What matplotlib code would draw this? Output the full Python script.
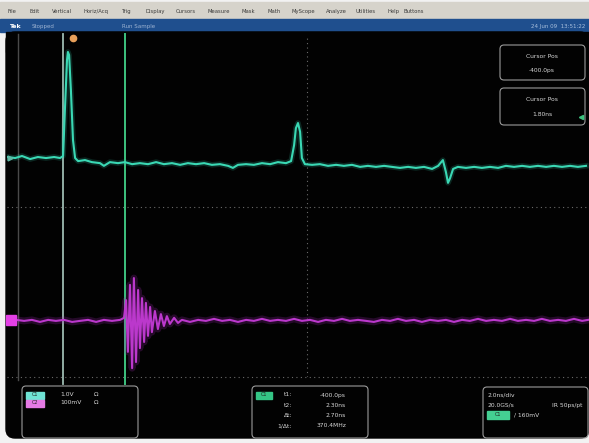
import matplotlib.pyplot as plt
from matplotlib.patches import Rectangle, FancyBboxPatch

# ---- trazas (tiempo en ns, amplitud en divisiones) ----
ch1_t = [-9.97, -9.73, -9.50, -9.23, -8.97, -8.70, -8.43, -8.23, -8.13, -8.07,
         -8.00, -7.97, -7.93, -7.87, -7.80, -7.73, -7.63, -7.40, -7.17, -6.90,
         -6.77, -6.57, -6.30, -6.07, -5.83, -5.57, -5.30, -5.03, -4.77, -4.50,
         -4.23, -3.97, -3.70, -3.43, -3.17, -2.90, -2.63, -2.47, -2.30, -2.03,
         -1.77, -1.50, -1.23, -0.97, -0.70, -0.53, -0.43, -0.37, -0.30, -0.23,
         -0.17, -0.07, 0.17, 0.43, 0.70, 0.97, 1.23, 1.50, 1.77, 2.03,
         2.30, 2.57, 2.83, 3.10, 3.37, 3.63, 3.90, 4.17, 4.37, 4.53,
         4.63, 4.70, 4.77, 4.87, 5.03, 5.30, 5.57, 5.83, 6.10, 6.37,
         6.63, 6.90, 7.17, 7.43, 7.70, 7.97, 8.23, 8.50, 8.77, 9.03, 9.30]
ch1_v = [1.47, 1.44, 1.50, 1.41, 1.47, 1.44, 1.47, 1.44, 1.50, 2.85,
         4.32, 4.56, 4.47, 3.44, 1.97, 1.44, 1.35, 1.38, 1.32, 1.29,
         1.21, 1.32, 1.29, 1.32, 1.26, 1.29, 1.26, 1.32, 1.26, 1.29,
         1.24, 1.29, 1.26, 1.29, 1.24, 1.26, 1.21, 1.15, 1.24, 1.26,
         1.24, 1.29, 1.26, 1.32, 1.29, 1.35, 1.82, 2.32, 2.47, 2.21,
         1.44, 1.26, 1.24, 1.26, 1.21, 1.24, 1.21, 1.24, 1.18, 1.21,
         1.18, 1.21, 1.18, 1.15, 1.18, 1.15, 1.18, 1.12, 1.21, 1.38,
         1.03, 0.71, 0.85, 1.12, 1.18, 1.15, 1.18, 1.15, 1.18, 1.15,
         1.21, 1.18, 1.21, 1.18, 1.21, 1.18, 1.21, 1.18, 1.21, 1.18, 1.21]

ch2_t = [-9.70, -9.43, -9.17, -8.90, -8.63, -8.37, -8.10, -7.83, -7.57, -7.30,
         -7.03, -6.77, -6.50, -6.23, -6.10, -6.03, -5.97, -5.90, -5.83, -5.77,
         -5.70, -5.63, -5.57, -5.50, -5.43, -5.37, -5.30, -5.23, -5.17, -5.07,
         -4.97, -4.87, -4.77, -4.67, -4.57, -4.43, -4.30, -4.17, -3.90, -3.63,
         -3.37, -3.10, -2.83, -2.57, -2.30, -2.03, -1.77, -1.50, -1.23, -0.97,
         -0.70, -0.43, -0.17, 0.10, 0.37, 0.63, 0.90, 1.17, 1.43, 1.70,
         1.97, 2.23, 2.50, 2.77, 3.03, 3.30, 3.57, 3.83, 4.10, 4.37,
         4.63, 4.90, 5.17, 5.43, 5.70, 5.97, 6.23, 6.50, 6.77, 7.03,
         7.30, 7.57, 7.83, 8.10, 8.37, 8.63, 8.90, 9.17, 9.37]
ch2_v = [-3.32, -3.35, -3.32, -3.38, -3.32, -3.35, -3.32, -3.38, -3.35, -3.32,
         -3.38, -3.32, -3.35, -3.32, -3.26, -2.74, -4.26, -2.29, -4.74, -2.09,
         -4.56, -2.44, -4.15, -2.68, -3.97, -2.82, -3.79, -2.94, -3.68, -3.06,
         -3.59, -3.15, -3.50, -3.21, -3.44, -3.26, -3.41, -3.32, -3.38, -3.32,
         -3.35, -3.29, -3.35, -3.32, -3.38, -3.32, -3.35, -3.29, -3.35, -3.32,
         -3.35, -3.29, -3.35, -3.32, -3.38, -3.32, -3.35, -3.29, -3.35, -3.32,
         -3.35, -3.38, -3.32, -3.35, -3.29, -3.35, -3.32, -3.38, -3.32, -3.35,
         -3.32, -3.38, -3.32, -3.35, -3.29, -3.35, -3.32, -3.35, -3.29, -3.35,
         -3.32, -3.35, -3.29, -3.35, -3.32, -3.35, -3.29, -3.35, -3.32]

cursor_t = [-8.13, -6.07]
ref_t = -9.63
trig_t = -7.80
ch1_pos = 1.44
ch2_pos = -3.32

menu_items = ["File", "Edit", "Vertical", "Horiz/Acq", "Trig", "Display", "Cursors",
              "Measure", "Mask", "Math", "MyScope", "Analyze", "Utilities", "Help", "Buttons"]
menu_x = [8, 30, 52, 84, 122, 146, 176, 208, 242, 268, 292, 326, 356, 388, 404]

ch_labels = ["C1", "C2"]
ch_scale = ["1.0V", "100mV"]
meas_labels = ["t1:", "t2:", "Δt:", "1/Δt:"]
meas_values = ["-400.0ps", "2.30ns", "2.70ns", "370.4MHz"]

W, H = 589, 443
fig = plt.figure(figsize=(W / 100, H / 100), dpi=100, facecolor="#f2f2f2")

# fondo: barra de menu, barra azul y pantalla negra
bg = fig.add_axes([0, 0, 1, 1])
bg.set_xlim(0, W)
bg.set_ylim(H, 0)
bg.axis("off")
bg.add_patch(Rectangle((0, 2), W, 17, color="#d6d3cb"))
bg.add_patch(Rectangle((0, 19), W, 13, color="#1f4f8e"))
bg.add_patch(FancyBboxPatch((6, 32), W - 6, 406, boxstyle="round,pad=0,rounding_size=9",
                            color="#020202"))
bg.add_patch(Rectangle((6, 32), W - 6, 20, color="#020202"))
for name, x in zip(menu_items, menu_x):
    bg.text(x, 11, name, fontsize=3.8, color="#3a3a3a", va="center")
bg.text(9, 26, "Tek", fontsize=4.5, color="white", fontweight="bold", va="center")
bg.text(32, 26, "Stopped", fontsize=4, color="#9db3d2", va="center")
bg.text(122, 26, "Run Sample", fontsize=4, color="#9db3d2", va="center")
bg.text(585, 26, "24 Jun 09  13:51:22", fontsize=4, color="#a9c0dd", va="center", ha="right")

# area de graticula (+-5 div en ambos ejes, 2 ns/div)
ax = fig.add_axes([7 / W, 1 - 377 / H, 600 / W, 340 / H])
ax.set_xlim(-10, 10)
ax.set_ylim(-5, 5)
ax.patch.set_alpha(0)
ax.axis("off")

grid_kw = dict(color="#6a6a6a", lw=0.8, ls=(0, (1, 3)))
ax.axhline(0, **grid_kw)
ax.axvline(0, **grid_kw)
ax.axhline(-5, clip_on=False, **grid_kw)

ax.plot([ref_t, ref_t], [5.1, -5.1], color="#4a4a4a", lw=1.0, clip_on=False)
ax.plot([cursor_t[0]] * 2, [5.1, -5.2], color="#9cbab0", lw=1.3, clip_on=False)
ax.plot([cursor_t[1]] * 2, [5.1, -5.2], color="#3dc27f", lw=1.4, clip_on=False)

ax.plot(ch1_t, ch1_v, color="#36d2b0", lw=4.0, alpha=0.18)
ax.plot(ch1_t, ch1_v, color="#3ad8b4", lw=1.5)
ax.plot(ch2_t, ch2_v, color="#a528b8", lw=5.0, alpha=0.22)
ax.plot(ch2_t, ch2_v, color="#bb38cc", lw=1.5)

ax.plot(trig_t, 4.97, marker="o", ms=4.5, color="#e8a05a", clip_on=False)
ax.plot(-9.88, ch2_pos, marker="s", ms=7, color="#e440e6", clip_on=False)
ax.plot(-9.9, ch1_pos, marker=">", ms=3.5, color="#5fb8a4", clip_on=False)

# cuadros de lectura
top = fig.add_axes([0, 0, 1, 1])
top.set_xlim(0, W)
top.set_ylim(H, 0)
top.patch.set_alpha(0)
top.axis("off")

box_kw = dict(boxstyle="round,pad=0,rounding_size=4", fill=False, ec="#9a9a9a", lw=0.8)
txt_kw = dict(fontsize=4.3, color="#d8d8d8", va="center")

top.add_patch(FancyBboxPatch((500, 45), 85, 35, **box_kw))
top.text(542, 56, "Cursor Pos", ha="center", **txt_kw)
top.text(542, 70, "-400.0ps", ha="center", **txt_kw)
top.add_patch(FancyBboxPatch((500, 88), 85, 37, **box_kw))
top.text(542, 99, "Cursor Pos", ha="center", **txt_kw)
top.text(542, 114, "1.80ns", ha="center", **txt_kw)
top.plot(581, 117, marker="<", ms=3, color="#3dc27f")

top.add_patch(FancyBboxPatch((22, 386), 116, 52, **box_kw))
for i, (lab, sc, col) in enumerate(zip(ch_labels, ch_scale, ["#6fe3d4", "#e47ae4"])):
    y = 395 + 8 * i
    top.add_patch(Rectangle((26, y - 3.5), 18, 7, color=col))
    top.text(35, y, lab, fontsize=3.5, color="#202020", ha="center", va="center")
    top.text(60, y, sc, **txt_kw)
    top.text(94, y, "Ω", **txt_kw)

top.add_patch(FancyBboxPatch((252, 386), 116, 52, **box_kw))
top.add_patch(Rectangle((256, 391.5), 16, 7, color="#34c585"))
top.text(264, 395, "C1", fontsize=3.5, color="#202020", ha="center", va="center")
for i, (lab, val) in enumerate(zip(meas_labels, meas_values)):
    y = 395 + 10.3 * i
    top.text(292, y, lab, ha="right", **txt_kw)
    top.text(346, y, val, ha="right", **txt_kw)

top.add_patch(FancyBboxPatch((483, 387), 105, 51, **box_kw))
top.text(488, 395, "2.0ns/div", **txt_kw)
top.text(488, 405, "20.0GS/s", **txt_kw)
top.text(582, 405, "IR 50ps/pt", ha="right", **txt_kw)
top.add_patch(Rectangle((487, 411), 22, 8, color="#44cf92"))
top.text(498, 415, "C1", fontsize=3.5, color="#202020", ha="center", va="center")
top.text(514, 415, "/ 160mV", **txt_kw)

fig.savefig("out.png", dpi=100, facecolor=fig.get_facecolor())
